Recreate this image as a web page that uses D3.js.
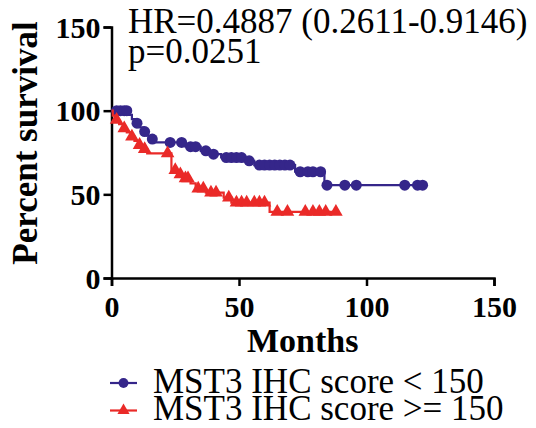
<!DOCTYPE html>
<html>
<head>
<meta charset="utf-8">
<script src="https://cdn.jsdelivr.net/npm/d3@7"></script>
<style>
  html, body { margin: 0; padding: 0; background: #fff; }
</style>
</head>
<body>
<div class="chart"></div>
<script>
// chart data

const xTicks = [0, 50, 100, 150],
      yTicks = [0, 50, 100, 150];

// MST3 IHC score < 150 : [month, survival after the drop]
const lowEvents = [[6.5, 97.5], [8, 95], [9.5, 92.5], [11, 90], [12.5, 87.5], [14, 85], [15.5, 83], [17, 81],
                   [29, 78.5], [35, 76], [39, 74], [43, 72], [52, 70], [56, 67.5], [72, 63.5], [83.5, 55.5]];
const lowCensored = [2, 3.5, 5, 6, 10, 13, 16, 23, 27.5, 31, 33, 37, 40, 45, 47, 49, 51, 54, 58, 60, 62,
                     64, 66, 68, 70, 74, 77, 79, 82, 84.5, 91.5, 96, 115, 120, 122];
const lowEnd = 122;

// MST3 IHC score >= 150
const highEvents = [[0.5, 97], [1.5, 94.5], [3, 92], [4.5, 89.5], [6, 87], [7.5, 84.5], [9, 82], [10.5, 79.5],
                    [12, 77], [14, 74.5], [23.5, 64.5], [26, 62], [28, 59.5], [31, 56.5], [33, 53.5], [37, 51],
                    [44, 48], [47, 45], [62, 39.5]];
const highCensored = [2, 5, 8, 11, 13, 22, 25, 27, 29, 30, 34, 36, 39, 41, 46, 49, 51, 53, 56, 58, 60,
                      65, 69, 76, 79, 81.5, 84, 88];
const highEnd = 88;

const groupNames = ["MST3 IHC score < 150", "MST3 IHC score >= 150"];
const statLines = ["HR=0.4887 (0.2611-0.9146)", "p=0.0251"];

// sizes

const width = 536,
      height = 428;

const font = "'Liberation Serif', 'Times New Roman', 'DejaVu Serif', serif";

const blue = "#35268a",
      red = "#ea2a28";

let svg = d3.select(".chart")
            .append("svg")
            .attr("width", width)
            .attr("height", height);

// scales
const x = d3.scaleLinear().domain([0, 150]).range([111.5, 494]);
const y = d3.scaleLinear().domain([0, 150]).range([278, 27]);

// axes

const yAxis = svg.append("g")
                 .attr("transform", `translate(${x(0)},0)`)
                 .call(d3.axisLeft(y).tickValues(yTicks).tickSize(8).tickPadding(3));

const xAxis = svg.append("g")
                 .attr("transform", `translate(0,${y(0)})`)
                 .call(d3.axisBottom(x).tickValues(xTicks).tickSize(8));

[yAxis, xAxis].forEach(ax => {
  ax.attr("font-family", null);
  ax.selectAll("path, line").attr("stroke", "#000").attr("stroke-width", 2.5);
  ax.selectAll("text")
    .attr("fill", "#000")
    .style("font-family", font)
    .style("font-size", "30px")
    .style("font-weight", "bold");
});

yAxis.selectAll("text").attr("dy", "0.34em");
xAxis.selectAll("text").attr("y", 39).attr("dy", 0);

// axis titles
svg.append("text")
   .attr("transform", "translate(37,143) rotate(-90)")
   .attr("text-anchor", "middle")
   .style("font-family", font)
   .style("font-size", "35px")
   .style("font-weight", "bold")
   .text("Percent survival");

svg.append("text")
   .attr("x", (x(0) + x(150)) / 2)
   .attr("y", 352)
   .attr("text-anchor", "middle")
   .style("font-family", font)
   .style("font-size", "34px")
   .style("font-weight", "bold")
   .text("Months");

// HR / p annotation
svg.selectAll(".stat")
   .data(statLines)
   .enter()
     .append("text")
     .attr("class", "stat")
     .attr("x", 128)
     .attr("y", (d, i) => 33 + i * 29.5)
     .style("font-family", font)
     .style("font-size", "35px")
     .text(d => d);

// survival at time t from the step list
const survivalAt = (events, t) => {
  let s = 100;
  events.forEach(e => { if (e[0] <= t) s = e[1]; });
  return s;
};

const stepLine = d3.line()
                   .x(d => x(d[0]))
                   .y(d => y(d[1]))
                   .curve(d3.curveStepAfter);

const groups = [
  { events: lowEvents, censored: lowCensored, end: lowEnd, color: blue, symbol: d3.symbolCircle, size: 95 },
  { events: highEvents, censored: highCensored, end: highEnd, color: red, symbol: d3.symbolTriangle, size: 80 }
];

groups.forEach(g => {
  const pts = [[0, 100]].concat(g.events, [[g.end, g.events[g.events.length - 1][1]]]);

  svg.append("path")
     .attr("d", stepLine(pts))
     .attr("fill", "none")
     .attr("stroke", g.color)
     .attr("stroke-width", 2.2);

  svg.append("g")
     .selectAll("path")
     .data(g.censored)
     .enter()
       .append("path")
       .attr("d", d3.symbol().type(g.symbol).size(g.size))
       .attr("transform", t => `translate(${x(t)},${y(survivalAt(g.events, t))})`)
       .attr("fill", g.color);
});

// legend
const legend = svg.selectAll(".legend")
                  .data(groups)
                  .enter()
                    .append("g")
                    .attr("class", "legend")
                    .attr("transform", (d, i) => `translate(0,${383 + i * 27.5})`);

legend.append("line")
      .attr("x1", 110).attr("x2", 137)
      .attr("stroke", d => d.color)
      .attr("stroke-width", 2.2);

legend.append("path")
      .attr("d", d => d3.symbol().type(d.symbol).size(d.size * 0.8)())
      .attr("transform", "translate(123.5,0)")
      .attr("fill", d => d.color);

legend.append("text")
      .attr("x", 153)
      .attr("y", 9.5)
      .style("font-family", font)
      .style("font-size", "35px")
      .text((d, i) => groupNames[i]);
</script>
</body>
</html>
